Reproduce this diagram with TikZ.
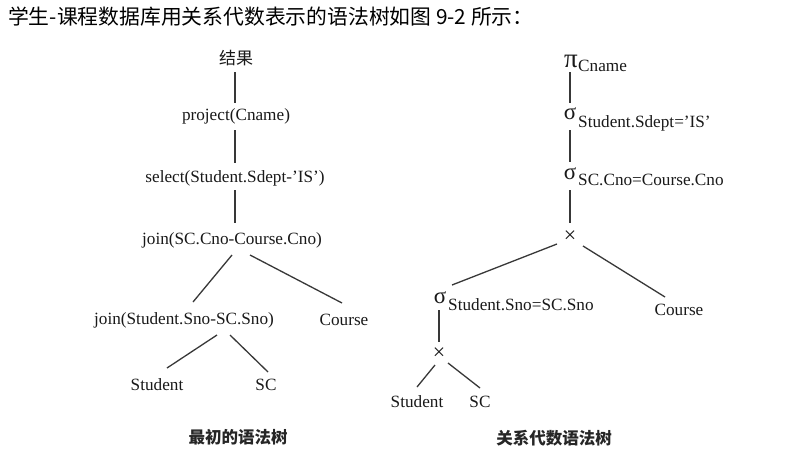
\documentclass[tikz,border=0pt]{standalone}
\usepackage{fontspec}
\setmainfont{Liberation Serif}
\newfontfamily\cjk{Noto Sans CJK SC}
\begin{document}
\begin{tikzpicture}[x=1pt,y=-1pt,
  lbl/.style={font=\fontsize{17.2}{19}\selectfont, inner sep=0pt, text=black!90},
  grk/.style={font=\fontsize{23}{25}\selectfont, inner sep=0pt, text=black!90},
  sub/.style={lbl, anchor=west},
  times/.style={font=\fontsize{22}{24}\selectfont, inner sep=0pt, text=black!90},
  edge/.style={draw=black!78, line width=1.3pt},
  captext/.style={font=\cjk\bfseries\fontsize{16.5}{18}\selectfont, inner sep=0pt, text=black!85}
]
\useasboundingbox[fill=white] (0,0) rectangle (803,464);

% title
\node[anchor=west, font=\cjk\fontsize{20.8}{23}\selectfont, inner sep=0pt] (title) at (8,17) {学生-课程数据库用关系代数表示的语法树如图 9-2 所示：};

% ---------- left tree ----------
\node[lbl, font=\cjk\fontsize{17}{18}\selectfont] (r1) at (236,58) {结果};
\node[lbl] (p1) at (236,116) {project(Cname)};
\node[lbl] (s1) at (235,178) {select(Student.Sdept-'IS')};
\node[lbl] (j1) at (232,240) {join(SC.Cno-Course.Cno)};
\node[lbl] (j2) at (184,320) {join(Student.Sno-SC.Sno)};
\node[lbl] (c1) at (344,320) {Course};
\node[lbl] (st1) at (157,385) {Student};
\node[lbl] (sc1) at (266,385) {SC};
\node[captext] (cap1) at (238,437) {最初的语法树};

\draw[edge] ([shift={(-1,14)}]r1.center) -- ([shift={(-1,-13)}]p1.center);
\draw[edge] ([shift={(-1,14)}]p1.center) -- ([shift={(0,-15)}]s1.center);
\draw[edge] ([shift={(0,12)}]s1.center) -- ([shift={(3,-17)}]j1.center);
\draw[edge] ([shift={(0,15)}]j1.center) -- ([shift={(9,-18)}]j2.center);
\draw[edge] ([shift={(18,15)}]j1.center) -- ([shift={(-2,-17)}]c1.center);
\draw[edge] ([shift={(33,15)}]j2.center) -- ([shift={(10,-17)}]st1.center);
\draw[edge] ([shift={(46,15)}]j2.center) -- ([shift={(2,-13)}]sc1.center);

% ---------- right tree ----------
\node[grk, font=\fontsize{27}{29}\selectfont] (pi) at (571,61) {π};
\node[sub] (pisub) at (578,66) {Cname};
\node[grk] (sg1) at (570,114) {σ};
\node[sub] (sg1sub) at (578,123) {Student.Sdept='IS'};
\node[grk] (sg2) at (570,174) {σ};
\node[sub] (sg2sub) at (578,180) {SC.Cno=Course.Cno};
\node[times] (x1) at (570,237) {×};
\node[grk] (sg3) at (440,298) {σ};
\node[sub] (sg3sub) at (448,305) {Student.Sno=SC.Sno};
\node[lbl] (c2) at (679,310) {Course};
\node[times] (x2) at (439,354) {×};
\node[lbl] (st2) at (417,402) {Student};
\node[lbl] (sc2) at (480,402) {SC};
\node[captext] (cap2) at (554,438) {关系代数语法树};

\draw[edge] ([shift={(-1,11)}]pi.center) -- ([shift={(0,-11)}]sg1.center);
\draw[edge] ([shift={(0,16)}]sg1.center) -- ([shift={(0,-12)}]sg2.center);
\draw[edge] ([shift={(0,16)}]sg2.center) -- ([shift={(0,-14)}]x1.center);
\draw[edge] ([shift={(-13,7)}]x1.center) -- ([shift={(12,-13)}]sg3.center);
\draw[edge] ([shift={(13,9)}]x1.center) -- ([shift={(-14,-13)}]c2.center);
\draw[edge] ([shift={(-1,12)}]sg3.center) -- ([shift={(0,-12)}]x2.center);
\draw[edge] ([shift={(-4,11)}]x2.center) -- ([shift={(0,-15)}]st2.center);
\draw[edge] ([shift={(9,9)}]x2.center) -- ([shift={(0,-14)}]sc2.center);
\end{tikzpicture}
\end{document}
